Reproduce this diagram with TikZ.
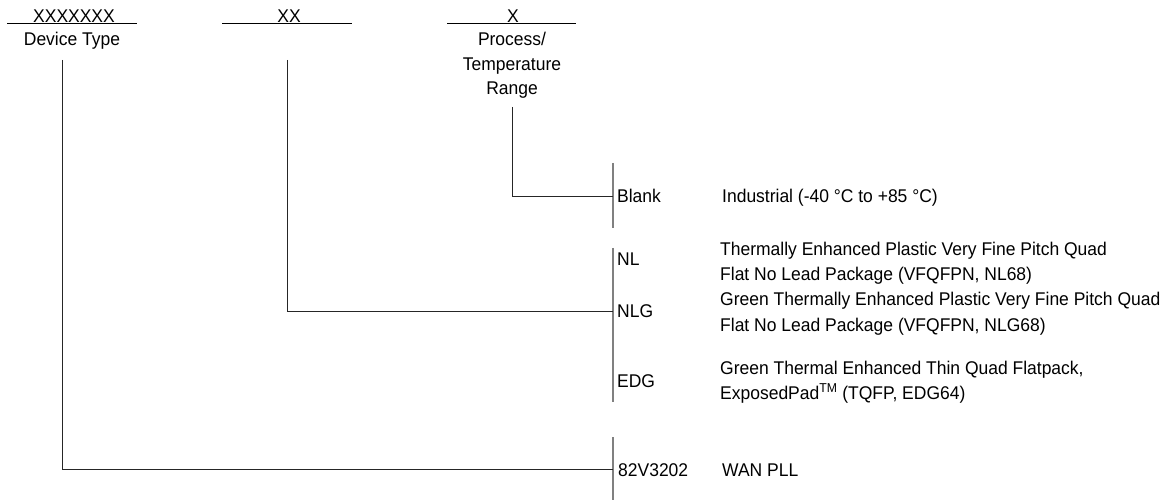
\documentclass[tikz,border=0pt]{standalone}
\usepackage{fontspec}
\setmainfont[FakeStretch=0.95]{Liberation Sans}

\begin{document}
\begin{tikzpicture}[x=1pt,y=-1pt,
  every node/.style={inner sep=0pt,font=\fontsize{18.4}{25}\selectfont},
  head/.style={anchor=base,align=center},
  code/.style={anchor=base west},
  desc/.style={anchor=base west,align=left},
  bar/.style={draw=gray,line width=1.2pt},
  link/.style={draw=black!85,line width=0.9pt}]
 \useasboundingbox (0,0) rectangle (1169,502);

 \node (dev)  at (74,23)  [anchor=base] {XXXXXXX};
 \node (pkg)  at (289,23) [anchor=base] {XX};
 \node (proc) at (513,23) [anchor=base] {X};

 \node (devt)  at (72,46)  [head] {Device Type};
 \node (proct) at (512,95) [head,font=\fontsize{18.4}{24.5}\selectfont] {Process/\\Temperature\\Range};

 \coordinate (dl) at (7,23);   \coordinate (dr) at (137,23);
 \coordinate (pl) at (222,23); \coordinate (pr) at (352,23);
 \coordinate (tl) at (447,23); \coordinate (tr) at (576,23);

 \coordinate (devtop)  at (62,60);
 \coordinate (pkgtop)  at (287,60);
 \coordinate (proctop) at (512,107);

 \coordinate (b1t) at (613,163); \coordinate (b1b) at (613,228);
 \coordinate (b2t) at (613,248); \coordinate (b2b) at (613,402);
 \coordinate (b3t) at (613,437); \coordinate (b3b) at (613,500);

 \node (blank) at (617,203) [code] {Blank};
 \node (nl)    at (617,266) [code] {NL};
 \node (nlg)   at (617,318) [code] {NLG};
 \node (edg)   at (617,387) [code] {EDG};
 \node (type)  at (618,476) [code] {82V3202};

 \node (ind)  at (722,203) [code] {Industrial (-40 °C to +85 °C)};
 \node (nld)  at (720,281) [desc] {Thermally Enhanced Plastic Very Fine Pitch Quad\\Flat No Lead Package (VFQFPN, NL68)};
 \node (nlgd) at (720,331) [desc] {Green Thermally Enhanced Plastic Very Fine Pitch Quad\\Flat No Lead Package (VFQFPN, NLG68)};
 \node (edgd) at (720,399) [desc] {Green Thermal Enhanced Thin Quad Flatpack,\\ExposedPad\textsuperscript{TM} (TQFP, EDG64)};
 \node (wan)  at (722,476) [code] {WAN PLL};

 \draw [line width=0.9pt] (dl) -- (dr);
 \draw [line width=0.9pt] (pl) -- (pr);
 \draw [line width=0.9pt] (tl) -- (tr);

 \draw [bar] (b1t) -- (b1b);
 \draw [bar] (b2t) -- (b2b);
 \draw [bar] (b3t) -- (b3b);

 \draw [link] (proctop) |- (b1t |- blank.west);
 \draw [link] (pkgtop) |- (b2t |- nlg.west);
 \draw [link] (devtop) |- (b3t |- type.west);

\end{tikzpicture}
\end{document}
